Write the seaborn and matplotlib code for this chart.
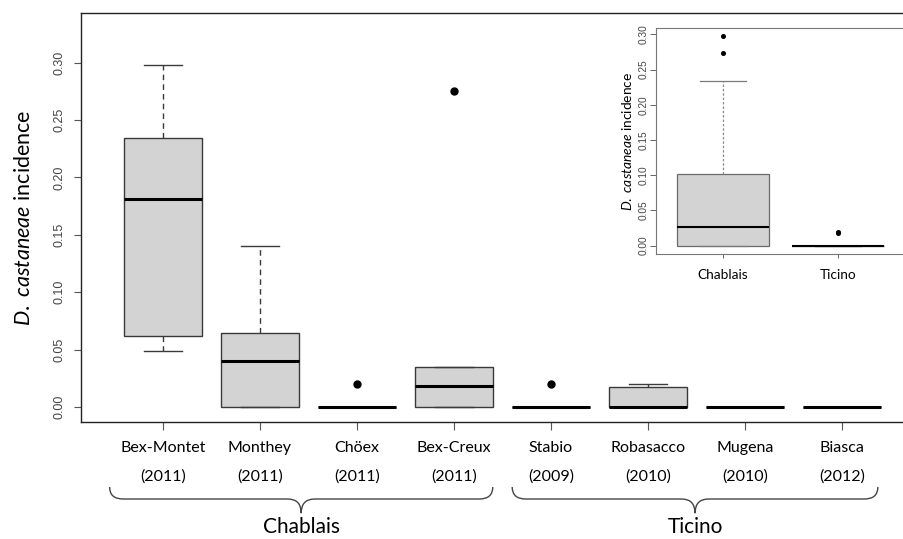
import numpy as np
import pandas as pd
import matplotlib
matplotlib.use("Agg")
import matplotlib.pyplot as plt
import seaborn as sns
from matplotlib.path import Path
from matplotlib.patches import PathPatch
from matplotlib.transforms import blended_transform_factory

# ── data ────────────────────────────────────────────────────────────────────
sites = ["Bex-Montet", "Monthey", "Chöex", "Bex-Creux",
         "Stabio", "Robasacco", "Mugena", "Biasca"]
years = ["2011", "2011", "2011", "2011", "2009", "2010", "2010", "2012"]

bex_montet = [0.049, 0.062, 0.181, 0.234, 0.298]
monthey = [0.0, 0.0, 0.040, 0.064, 0.140]
choex = [0.0, 0.0, 0.0, 0.0, 0.020]
bex_creux = [0.0, 0.0, 0.018, 0.035, 0.275]
stabio = [0.0, 0.0, 0.0, 0.0, 0.020]
robasacco = [0.0, 0.0, 0.0, 0.0175, 0.020]
mugena = [0.0, 0.0, 0.0, 0.0, 0.0]
biasca = [0.0, 0.0, 0.0, 0.0, 0.0]
site_values = [bex_montet, monthey, choex, bex_creux,
               stabio, robasacco, mugena, biasca]

regions = ["Chablais", "Ticino"]

# pooled per region (inset)
chablais_pooled = [0.0] * 6 + [0.027] + [0.1015] * 3 + [0.2336, 0.274, 0.297]
ticino_pooled = [0.0] * 10 + [0.018, 0.020]

main_yticks = [0.00, 0.05, 0.10, 0.15, 0.20, 0.25, 0.30]

# ── frames ──────────────────────────────────────────────────────────────────
labels = [f"{s}\n({y})" for s, y in zip(sites, years)]
df = pd.DataFrame({
    "site": np.repeat(labels, [len(v) for v in site_values]),
    "incidence": np.concatenate(site_values),
})
df_region = pd.DataFrame({
    "region": ["Chablais"] * len(chablais_pooled) + ["Ticino"] * len(ticino_pooled),
    "incidence": chablais_pooled + ticino_pooled,
})

plt.rcParams["mathtext.fontset"] = "custom"
plt.rcParams["mathtext.rm"] = "Lato"
plt.rcParams["mathtext.it"] = "Lato:italic"

fig = plt.figure(figsize=(9.04, 5.39), dpi=100)
ax = fig.add_axes([0.0896, 0.217, 0.9298, 0.7588])

box_fill = "#d3d3d3"
sns.boxplot(
    data=df, x="site", y="incidence", order=labels, ax=ax,
    color=box_fill, saturation=1, linecolor="#3a3a3a", linewidth=1.0,
    width=0.8, whis=1.5, fliersize=5,
    medianprops=dict(color="black", linewidth=2.2),
    whiskerprops=dict(linestyle=(0, (4, 3)), color="#3a3a3a"),
    capprops=dict(color="#3a3a3a"),
    flierprops=dict(marker="o", markerfacecolor="black",
                    markeredgecolor="black"),
)
ax.set_xlim(-0.845, 7.82)
ax.set_ylim(-0.0132, 0.3432)
ax.set_yticks(main_yticks)
ax.set_yticklabels([f"{t:.2f}" for t in main_yticks], rotation=90, va="center",
                   fontsize=9, family="Liberation Sans", color="#444444")
ax.tick_params(axis="y", length=5, width=0.8, color="#555555", pad=6)
ax.tick_params(axis="x", length=6, width=0.8, color="#555555", pad=8)
for lab in ax.get_xticklabels():
    lab.set_family("Lato")
    lab.set_fontsize(11.5)
    lab.set_linespacing(2.25)
ax.set_xlabel("")
ax.set_ylabel(r"$\mathit{D.\ castaneae}$ incidence", family="Lato",
              fontsize=15.5, labelpad=14)
for side in ["left", "bottom", "top"]:
    ax.spines[side].set_color("#222222")
    ax.spines[side].set_linewidth(1.0)
ax.spines["right"].set_visible(False)

# ── braces under the site labels ────────────────────────────────────────────
trans = blended_transform_factory(ax.transData, fig.transFigure)
brace_spans = [(-0.55, 3.40), (3.60, 7.37)]
y_top, y_mid, y_tip = 0.0965, 0.0742, 0.048
for name, (x0, x1) in zip(regions, brace_spans):
    xm = (x0 + x1) / 2
    r = 0.14
    verts = [(x0, y_top), (x0, y_mid), (x0 + r, y_mid),
             (xm - r, y_mid), (xm, y_mid), (xm, y_tip),
             (xm, y_mid), (xm + r, y_mid),
             (x1 - r, y_mid), (x1, y_mid), (x1, y_top)]
    codes = [Path.MOVETO, Path.CURVE3, Path.CURVE3,
             Path.LINETO, Path.CURVE3, Path.CURVE3,
             Path.CURVE3, Path.CURVE3,
             Path.LINETO, Path.CURVE3, Path.CURVE3]
    ax.add_patch(PathPatch(Path(verts, codes), transform=trans, fill=False,
                           edgecolor="#444444", linewidth=1.0, clip_on=False))
    ax.text(xm, 0.022, name, transform=trans, ha="center", va="center",
            family="Lato", fontsize=15)

# ── inset: pooled by region ─────────────────────────────────────────────────
ins = fig.add_axes([0.7257, 0.5288, 0.2748, 0.4193])
sns.boxplot(
    data=df_region, x="region", y="incidence", order=regions, ax=ins,
    color=box_fill, saturation=1, linecolor="#6a6a6a", linewidth=0.9,
    width=0.8, whis=1.5, fliersize=2.6,
    medianprops=dict(color="black", linewidth=1.5),
    whiskerprops=dict(linestyle=(0, (2, 1.5)), color="#8a8a8a"),
    capprops=dict(color="#7a7a7a"),
    flierprops=dict(marker="o", markerfacecolor="black",
                    markeredgecolor="black"),
)
ins.set_xlim(-0.58, 1.58)
ins.set_ylim(-0.0119, 0.309)
ins.set_yticks(main_yticks)
ins.set_yticklabels([f"{t:.2f}" for t in main_yticks], rotation=90, va="center",
                    fontsize=7.3, family="Liberation Sans", color="#444444")
ins.tick_params(axis="y", length=4, width=0.7, color="#666666", pad=1.5)
ins.tick_params(axis="x", length=3, width=0.7, color="#666666", pad=8)
for lab in ins.get_xticklabels():
    lab.set_family("Lato")
    lab.set_fontsize(9.8)
ins.set_xlabel("")
ins.set_ylabel(r"$\mathit{D.\ castaneae}$ incidence", family="Lato",
               fontsize=9.9, labelpad=3)
for side in ["left", "bottom", "top"]:
    ins.spines[side].set_color("#777777")
    ins.spines[side].set_linewidth(0.8)
ins.spines["right"].set_visible(False)

fig.savefig("out.png", dpi=100)
